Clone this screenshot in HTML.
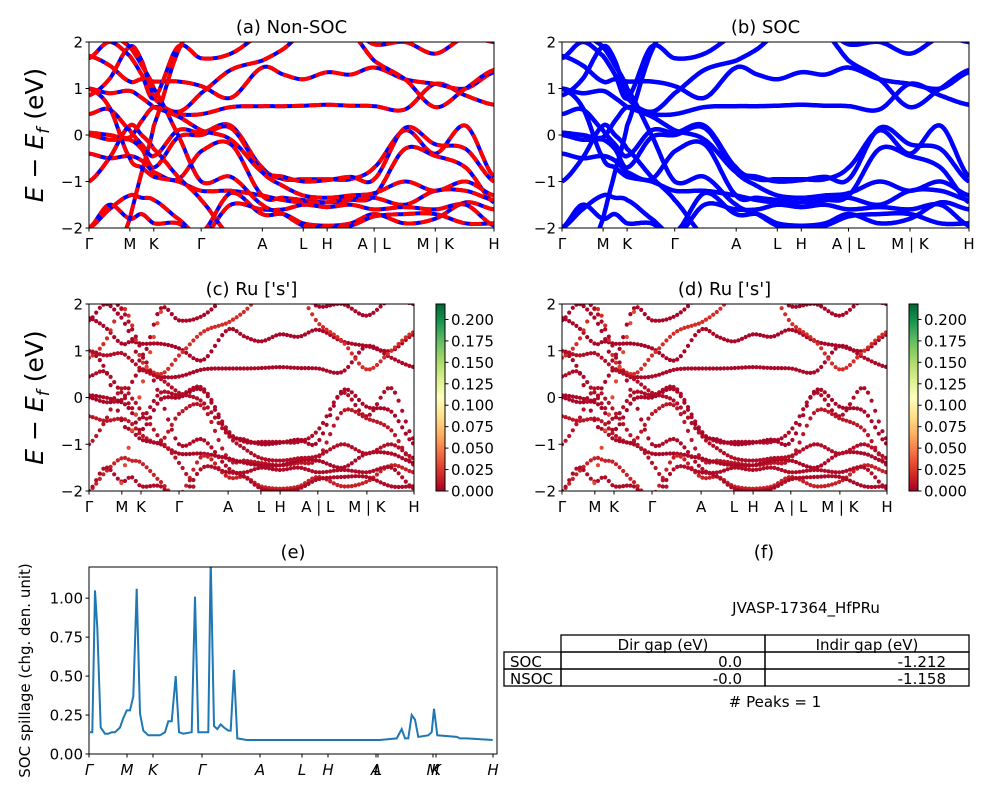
<!DOCTYPE html>
<html><head><meta charset="utf-8"><style>
html,body{margin:0;padding:0;background:#fff;}
svg{display:block;font-family:"DejaVu Sans","Liberation Sans",sans-serif;}
</style></head><body>
<svg id="fig" width="1000" height="800" viewBox="0 0 1000 800">
<defs>
<linearGradient id="rdylgn" x1="0" y1="1" x2="0" y2="0">
<stop offset="0" stop-color="#a50026"/><stop offset="0.1" stop-color="#d73027"/><stop offset="0.2" stop-color="#f46d43"/><stop offset="0.3" stop-color="#fdae61"/><stop offset="0.4" stop-color="#fee08b"/><stop offset="0.5" stop-color="#ffffbf"/><stop offset="0.6" stop-color="#d9ef8b"/><stop offset="0.7" stop-color="#a6d96a"/><stop offset="0.8" stop-color="#66bd63"/><stop offset="0.9" stop-color="#1a9850"/><stop offset="1" stop-color="#006837"/>
</linearGradient>
</defs>
</svg>
<script>
// ---- data ----
const kPoints = [0,0.05,0.101,0.13,0.16,0.22,0.277,0.35,0.428,0.48,0.529,0.588,0.646,0.704,0.78,0.855,0.93,1];
const symLabels = ["Γ","M","K","Γ","A","L","H","A | L","M | K","H"];
const symPos = [0,0.101,0.16,0.277,0.428,0.529,0.588,0.704,0.855,1];
const band1 = [0.05,0.0,-0.05,0.3,0.6,0.45,0.45,0.6,0.62,0.62,0.63,0.65,0.63,0.62,0.55,1.1,0.85,0.65];
const band2 = [0.45,0.55,0.1,-0.2,-0.45,0.1,0.05,0.2,-0.7,-0.95,-0.95,-0.95,-0.95,-0.7,0.1,-0.4,0.2,-0.9];
const band3 = [0.0,-0.1,-0.1,-0.3,-0.7,-0.05,0.0,0.15,-0.75,-0.9,-1.0,-0.97,-0.9,-0.95,0.15,-0.2,-0.3,-1.0];
const band4 = [-0.4,-0.5,-0.45,-0.55,-0.8,-0.95,-0.35,-0.2,-1.3,-1.35,-1.4,-1.45,-1.4,-1.3,-0.3,-0.45,-0.7,-1.45];
const band5 = [1.0,0.6,-0.5,-0.7,-0.9,-1.0,-1.2,-1.2,-1.3,-1.4,-1.45,-1.45,-1.35,-1.35,-1.5,-1.2,-1.2,-1.4];
const band6 = [1.7,1.5,1.15,1.2,1.15,1.15,1.05,0.8,1.45,1.3,1.2,1.35,1.3,1.45,1.2,1.1,1.0,1.35];
const band7 = [0.85,1.2,1.9,1.6,0.8,0.5,0.9,1.4,1.6,1.85,2.2,2.3,2.2,1.6,1.2,0.6,1.0,1.4];
const band8 = [-2.0,-1.6,-1.3,-1.35,-1.4,-1.8,-2.1,-1.25,-1.7,-1.7,-1.9,-1.95,-1.9,-1.7,-1.9,-1.8,-1.45,-1.6];
const band9 = [-2.0,-1.5,-1.8,-1.7,-1.9,-1.9,-2.2,-1.5,-1.6,-1.6,-1.5,-1.55,-1.5,-1.6,-1.55,-1.6,-1.5,-1.95];
const band10 = [1.65,2.0,1.7,1.3,0.8,1.9,1.65,1.75,2.2,2.5,2.5,2.5,2.3,1.95,2.0,1.75,2.1,2.0];
const band11 = [-1.0,-0.5,0.2,0.0,-0.3,-0.9,-1.4,-2.2,-2.5,-2.5,-2.5,-2.5,-2.5,-2.5,-2.5,-2.5,-2.5,-2.5];
const band12 = [-3,-3,-1.8,-0.8,0.2,1.8,2.5,2.5,2.5,2.5,2.5,2.5,2.5,2.5,2.5,2.5,2.5,2.5];
const band13 = [2.5,2.2,1.9,1.5,1.0,0.0,-1.0,-0.9,-1.5,-1.7,-1.95,-2.0,-1.95,-1.75,-1.7,-1.7,-1.9,-1.9];
const band14 = [1.0,0.9,0.95,0.8,0.6,0.4,0.1,-0.1,-0.8,-1.1,-1.3,-1.35,-1.3,-1.25,-1.0,-1.2,-1.0,-1.3];
const bands = [band1,band2,band3,band4,band5,band6,band7,band8,band9,band10,band11,band12,band13,band14];
const bandWeights = [0.003,0.005,0.002,0.01,0.003,0.002,0.02,0.015,0.005,0.002,0.008,0.03,0.004,0.006];
const yTicks = [-2,-1,0,1,2];
const cbTicks = [0,0.025,0.05,0.075,0.1,0.125,0.15,0.175,0.2];
const cbMax = 0.218;
const spillK = [270,277,285,292,302,315,325,335,345,360,370,380,390,400,410,420,430,445,460,480,495,505,515,527,537,550,575,585,595,625,632,642,652,662,672,685,692,702,712,740,800,850,1000,1100,1130,1140,1190,1205,1215,1225,1235,1245,1255,1285,1295,1302,1312,1370,1380,1400,1478];
const spillV = [0.14,0.14,1.05,0.81,0.17,0.13,0.13,0.14,0.14,0.17,0.23,0.28,0.28,0.37,1.06,0.26,0.15,0.12,0.12,0.12,0.14,0.21,0.21,0.50,0.14,0.13,0.14,1.01,0.14,0.14,1.25,0.18,0.16,0.19,0.17,0.15,0.15,0.54,0.10,0.09,0.09,0.09,0.09,0.09,0.09,0.09,0.10,0.16,0.10,0.10,0.25,0.22,0.11,0.12,0.14,0.29,0.12,0.11,0.10,0.10,0.09];
const spillTickLabels = ["Γ","M","K","Γ","A","L","H","A","L","M","K","H"];
const spillTickK = [267,381,459,606,780,906,984,1128,1134,1299,1308,1479];
const spillYTicks = [0,0.25,0.5,0.75,1.0];

const NS="http://www.w3.org/2000/svg";
const svg=document.getElementById('fig');
function el(tag,attrs,parent){const e=document.createElementNS(NS,tag);for(const k in attrs)e.setAttribute(k,attrs[k]);(parent||svg).appendChild(e);return e;}
function txt(s,attrs,parent){const e=el('text',attrs,parent);e.textContent=s;return e;}

function interp(arr,t){
  let i=0;while(i<kPoints.length-2&&t>kPoints[i+1])i++;
  const x0=kPoints[i],x1=kPoints[i+1];const u=(t-x0)/(x1-x0);
  const p0=arr[Math.max(0,i-1)],p1=arr[i],p2=arr[i+1],p3=arr[Math.min(arr.length-1,i+2)];
  const m1=(p2-p0)/2,m2=(p3-p1)/2;
  const u2=u*u,u3=u2*u;
  return (2*u3-3*u2+1)*p1+(u3-2*u2+u)*m1+(-2*u3+3*u2)*p2+(u3-u2)*m2;
}
function colorFor(w){
  const stops=["#a50026","#d73027","#f46d43","#fdae61","#fee08b","#ffffbf","#d9ef8b","#a6d96a","#66bd63","#1a9850","#006837"];
  const f=Math.max(0,Math.min(1,w/cbMax))*10;const i=Math.min(9,Math.floor(f));const u=f-i;
  const a=stops[i],b=stops[i+1];const c=j=>Math.round(parseInt(a.substr(j,2),16)*(1-u)+parseInt(b.substr(j,2),16)*u);
  return "rgb("+c(1)+","+c(3)+","+c(5)+")";
}

let clipId=0;
function bandPanel(name,L,T,R,B,title,mode,showYLabel,cbX){
  const g=el('g',{},svg);
  
  
  const W=R-L,H=B-T;
  const xs=k=>L+k*W, ys=e=>T+(2-e)/4*H;
  const cid='clip'+(clipId++);
  const cp=el('clipPath',{id:cid},g);el('rect',{x:L,y:T,width:W,height:H},cp);
  const plot=el('g',{'clip-path':'url(#'+cid+')'},g);
  
  
  bands.forEach((b,bi)=>{
    if(mode==='dots'){
      const step=3.6/W;
      for(let t=0;t<=1;t+=step){
        const e=interp(b,t);
        if(e<-2.1||e>2.1)continue;
        const c=el('circle',{cx:xs(t).toFixed(1),cy:ys(e).toFixed(1),r:2.1,fill:colorFor(bandWeights[bi])},plot);
        
        
      }
    } else {
      let d='';
      for(let i=0;i<=400;i++){const t=i/400;d+=(i?'L':'M')+xs(t).toFixed(1)+','+ys(interp(b,t)).toFixed(1);}
      if(mode==='nsoc'){
        const p1=el('path',{d:d,fill:'none',stroke:'#0000ff','stroke-width':4},plot);
        
        
        const p2=el('path',{d:d,fill:'none',stroke:'#ff0000','stroke-width':4,'stroke-dasharray':'12,5'},plot);
        
        
      } else {
        const p=el('path',{d:d,fill:'none',stroke:'#0000ff','stroke-width':4.5},plot);
        
        
      }
    }
  });
  const fr=el('rect',{x:L,y:T,width:W,height:H,fill:'none',stroke:'#000','stroke-width':1},g);
  
  
  yTicks.forEach(v=>{
    el('line',{x1:L,x2:L-3.5,y1:ys(v),y2:ys(v),stroke:'#000'},g);
    const t=txt((v<0?'−':'')+Math.abs(v),{x:L-6,y:ys(v)+5.5,'text-anchor':'end','font-size':15},g);
    
    
  });
  symPos.forEach((k,i)=>{
    el('line',{x1:xs(k),x2:xs(k),y1:B,y2:B+3.5,stroke:'#000'},g);
    const t=txt(symLabels[i],{x:xs(k),y:B+21,'text-anchor':'middle','font-size':15},g);
    
    
  });
  const tt=txt(title,{x:(L+R)/2,y:T-9,'text-anchor':'middle','font-size':18},g);
  
  
  if(showYLabel){
    const yl=el('text',{transform:'translate(43,'+((T+B)/2)+') rotate(-90)','text-anchor':'middle','font-size':25},g);
    
    
    yl.innerHTML='<tspan font-style="italic">E</tspan> − <tspan font-style="italic">E</tspan><tspan font-style="italic" font-size="17" dy="6">f</tspan><tspan dy="-6"> (eV)</tspan>';
  }
  if(cbX){
    const cb=el('rect',{x:cbX,y:T,width:9,height:H,fill:'url(#rdylgn)',stroke:'#000','stroke-width':1},g);
    
    
    cbTicks.forEach(v=>{
      const y=B-v/cbMax*H;
      el('line',{x1:cbX+9,x2:cbX+12.5,y1:y,y2:y,stroke:'#000'},g);
      const t=txt(v.toFixed(3),{x:cbX+15,y:y+5.5,'font-size':15},g);
      
      
    });
  }
}
bandPanel('panel-a-nonsoc',89,42,494,228,'(a) Non-SOC','nsoc',true,null);
bandPanel('panel-b-soc',562,42,969,228,'(b) SOC','soc',false,null);
bandPanel('panel-c-ru-s',89,304,414,491,"(c)  Ru ['s']",'dots',true,436);
bandPanel('panel-d-ru-s',562,304,887,491,"(d) Ru ['s']",'dots',false,909);

(function(){
  const L=89,T=567,R=497,B=754,W=R-L,H=B-T;
  const g=el('g',{},svg);
  
  
  const xs=k=>L+(k-267)/(1491-267)*W, ys=v=>B-v/1.2*H;
  const cp=el('clipPath',{id:'clipE'},g);el('rect',{x:L,y:T,width:W,height:H},cp);
  let d='';spillK.forEach((k,i)=>{d+=(i?'L':'M')+xs(k).toFixed(1)+','+ys(spillV[i]).toFixed(1);});
  const p=el('path',{d:d,fill:'none',stroke:'#1f77b4','stroke-width':2,'clip-path':'url(#clipE)'},g);
  
  
  const fr=el('rect',{x:L,y:T,width:W,height:H,fill:'none',stroke:'#000'},g);
  
  
  spillYTicks.forEach(v=>{
    el('line',{x1:L,x2:L-3.5,y1:ys(v),y2:ys(v),stroke:'#000'},g);
    const t=txt(v.toFixed(2),{x:L-6,y:ys(v)+5.5,'text-anchor':'end','font-size':15},g);
    
    
  });
  spillTickK.forEach((k,i)=>{
    el('line',{x1:xs(k),x2:xs(k),y1:B,y2:B+3.5,stroke:'#000'},g);
    const t=txt(spillTickLabels[i],{x:xs(k),y:B+21,'text-anchor':'middle','font-size':15,'font-style':'italic'},g);
    
    
  });
  const tt=txt('(e)',{x:(L+R)/2,y:T-9,'text-anchor':'middle','font-size':18},g);
  
  
  const yl=txt('SOC spillage (chg. den. unit)',{transform:'translate(30,'+((T+B)/2+10)+') rotate(-90)','text-anchor':'middle','font-size':15},g);
  
  
})();

(function(){
  const g=el('g',{},svg);
  
  
  const tt=txt('(f)',{x:764,y:558,'text-anchor':'middle','font-size':18},g);
  
  
  const id=txt('JVASP-17364_HfPRu',{x:806,y:613,'text-anchor':'middle','font-size':15},g);
  
  
  const cells=[
    [561,635,204,17,'Dir gap (eV)','middle'],[765,635,204,17,'Indir gap (eV)','middle'],
    [504,652,57,17,'SOC','start'],[561,652,204,17,'0.0','end'],[765,652,204,17,'-1.212','end'],
    [504,669,57,17,'NSOC','start'],[561,669,204,17,'-0.0','end'],[765,669,204,17,'-1.158','end']];
  cells.forEach(c=>{
    const r=el('rect',{x:c[0],y:c[1],width:c[2],height:c[3],fill:'none',stroke:'#000','stroke-width':1.3},g);
    
    
    let x=c[5]==='middle'?c[0]+c[2]/2:(c[5]==='start'?c[0]+6:c[0]+c[2]-23);
    const t=txt(c[4],{x:x,y:c[1]+15,'text-anchor':c[5],'font-size':15},g);
    
    
  });
  const pk=txt('# Peaks = 1',{x:775,y:707,'text-anchor':'middle','font-size':15},g);
  
  
})();
</script>
</body></html>
